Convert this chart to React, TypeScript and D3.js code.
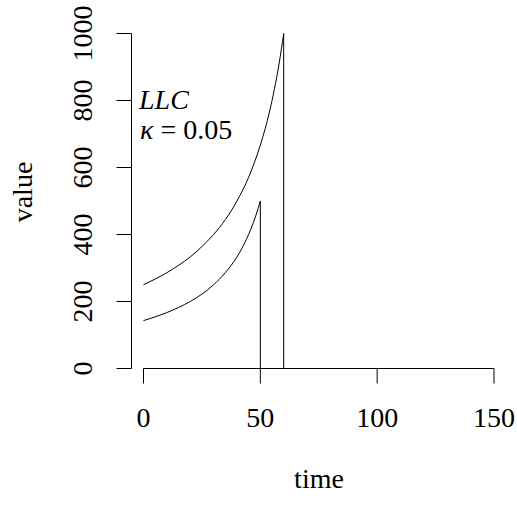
import React from "react";
import * as d3 from "d3";

const ssTime = [0, 5, 10, 15, 20, 25, 30, 35, 40, 42, 44, 46, 48, 50];
const ssValue = [143, 154, 167, 182, 200, 222, 250, 286, 333, 357, 385, 417, 455, 500];
const llTime = [0, 5, 10, 15, 20, 25, 30, 35, 40, 45, 50, 52, 54, 56, 58, 60];
const llValue = [250, 267, 286, 308, 333, 364, 400, 444, 500, 571, 667, 714, 769, 833, 909, 1000];
const tailEnd = 150;
const xTicks = [0, 50, 100, 150];
const yTicks = [0, 200, 400, 600, 800, 1000];

const W = 517;
const H = 513;
const FONT = '"Liberation Serif", "Times New Roman", Tinos, "DejaVu Serif", serif';
const txt: React.CSSProperties = { fontFamily: FONT, fontSize: 28 };

export default function App() {
  const x = d3.scaleLinear().domain([0, 150]).range([143.5, 494]);
  const y = d3.scaleLinear().domain([0, 1000]).range([368.5, 33.5]);
  const smooth = d3
    .line<[number, number]>()
    .x((d) => x(d[0]))
    .y((d) => y(d[1]))
    .curve(d3.curveMonotoneX);
  const straight = d3
    .line<[number, number]>()
    .x((d) => x(d[0]))
    .y((d) => y(d[1]));

  const series = [
    { t: ssTime, v: ssValue },
    { t: llTime, v: llValue },
  ];

  const axisY = 131.5;
  const axisX = 368.5;

  return (
    <svg
      width={W}
      height={H}
      style={{ position: "absolute", left: 0, top: 0, background: "#fff" }}
    >
      <rect x={0} y={0} width={W} height={H} fill="#fff" />
      {series.map((s, i) => {
        const pts = s.t.map((t, j) => [t, s.v[j]] as [number, number]);
        const last = pts[pts.length - 1];
        const tail: [number, number][] = [last, [last[0], 0], [tailEnd, 0]];
        return (
          <g key={i} fill="none" stroke="#000" strokeWidth={1}>
            <path d={smooth(pts) || ""} />
            <path d={straight(tail) || ""} />
          </g>
        );
      })}
      <line x1={x(0)} x2={x(150)} y1={axisX} y2={axisX} stroke="#000" strokeWidth={1} />
      {xTicks.map((t) => (
        <g key={t}>
          <line x1={x(t)} x2={x(t)} y1={axisX} y2={axisX + 15} stroke="#000" strokeWidth={1} />
          <text x={x(t)} y={427} textAnchor="middle" style={txt} fill="#000">
            {t}
          </text>
        </g>
      ))}
      <line x1={axisY} x2={axisY} y1={y(0)} y2={y(1000)} stroke="#000" strokeWidth={1} />
      {yTicks.map((t) => (
        <g key={t}>
          <line x1={axisY - 15} x2={axisY} y1={y(t)} y2={y(t)} stroke="#000" strokeWidth={1} />
          <text
            transform={`translate(92,${y(t)}) rotate(-90)`}
            textAnchor="middle"
            style={txt}
            fill="#000"
          >
            {t}
          </text>
        </g>
      ))}
      <text x={319} y={488} textAnchor="middle" style={txt} fill="#000">
        time
      </text>
      <text
        transform="translate(32,192) rotate(-90)"
        textAnchor="middle"
        style={txt}
        fill="#000"
      >
        value
      </text>
      <text x={139} y={109} style={{ ...txt, fontStyle: "italic" }} fill="#000">
        LLC
      </text>
      <text x={140} y={139} style={txt} fill="#000">
        <tspan style={{ fontStyle: "italic" }}>κ</tspan>
        <tspan> = 0.05</tspan>
      </text>
    </svg>
  );
}
